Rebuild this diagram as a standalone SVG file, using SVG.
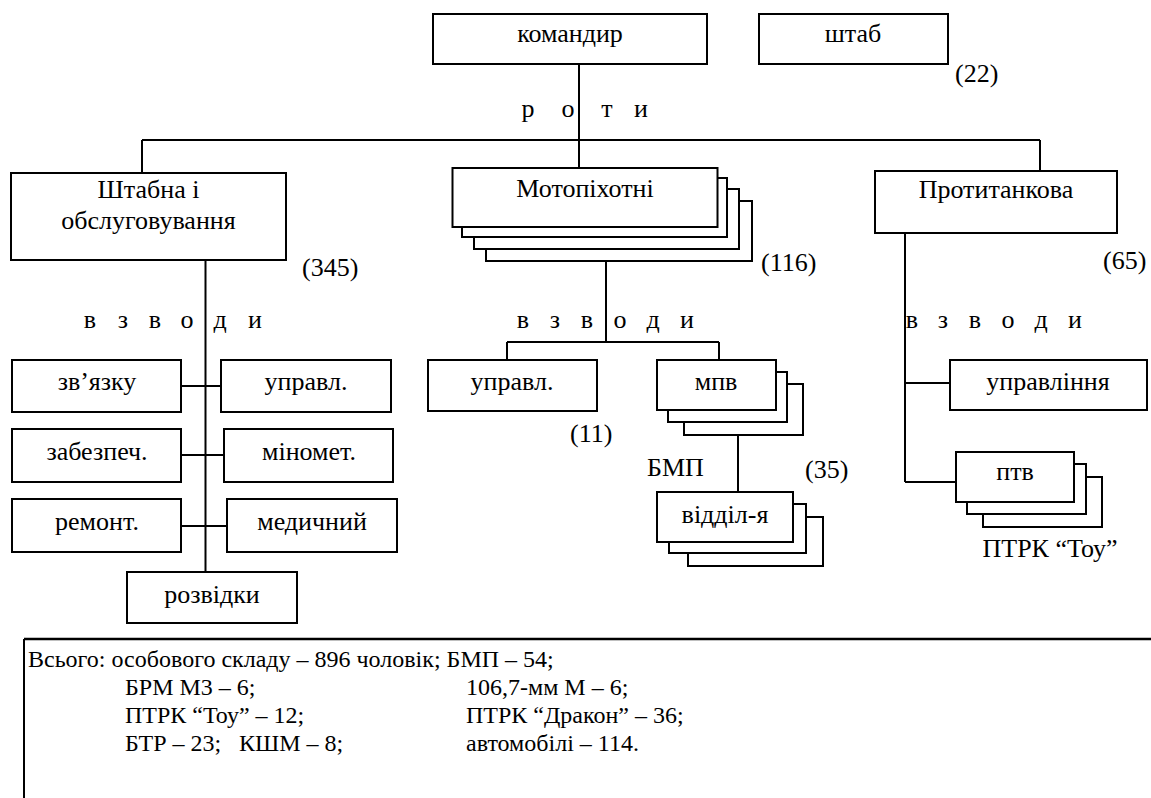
<svg xmlns="http://www.w3.org/2000/svg" width="1151" height="798" viewBox="0 0 1151 798" font-family="Times New Roman, Liberation Serif, Tinos, serif" font-size="26">
<rect width="1151" height="798" fill="#fff"/>
<g id="connectors" stroke="#000" stroke-width="2" fill="none">
<path d="M579,64V168M142,140H1040M142,140V173M1040,140V171"/>
<path d="M205.5,260V572M181,386H221M181,455H224M181,526H227"/>
<path d="M606,261V342M507,342H719M507,342V360M719,342V360M738,435V492"/>
<path d="M905,233V482M905,383H950M905,482H956"/>
</g>
<g id="komandyr"><rect fill="#fff" stroke="#000" stroke-width="2" x="433" y="14" width="274" height="50"/><text font-family="Times New Roman, Liberation Serif, serif" text-anchor="middle" x="570" y="42">командир</text></g>
<g id="shtab"><rect fill="#fff" stroke="#000" stroke-width="2" x="759" y="14" width="189" height="50"/><text font-family="Times New Roman, Liberation Serif, serif" text-anchor="middle" x="853" y="42">штаб</text><text font-family="Times New Roman, Liberation Serif, serif" x="955" y="82">(22)</text></g>
<g id="roty-label"><text font-family="Times New Roman, Liberation Serif, serif" text-anchor="middle" y="117"><tspan x="528">р</tspan><tspan x="568">о</tspan><tspan x="607">т</tspan><tspan x="641">и</tspan></text></g>
<g id="shtabna"><rect fill="#fff" stroke="#000" stroke-width="2" x="11" y="173" width="275" height="87"/><text font-family="Times New Roman, Liberation Serif, serif" text-anchor="middle" x="148.5" y="198">Штабна і</text><text font-family="Times New Roman, Liberation Serif, serif" text-anchor="middle" x="148.5" y="229">обслуговування</text><text font-family="Times New Roman, Liberation Serif, serif" x="302" y="276">(345)</text>
<text font-family="Times New Roman, Liberation Serif, serif" text-anchor="middle" y="328"><tspan x="90">в</tspan><tspan x="123">з</tspan><tspan x="155">в</tspan><tspan x="187">о</tspan><tspan x="220">д</tspan><tspan x="255">и</tspan></text></g>
<g id="zviazku"><rect fill="#fff" stroke="#000" stroke-width="2" x="12" y="360" width="169" height="52"/><text font-family="Times New Roman, Liberation Serif, serif" text-anchor="middle" x="97" y="390">зв’язку</text></g>
<g id="upravl-left"><rect fill="#fff" stroke="#000" stroke-width="2" x="221" y="360" width="170" height="52"/><text font-family="Times New Roman, Liberation Serif, serif" text-anchor="middle" x="306" y="390">управл.</text></g>
<g id="zabezpech"><rect fill="#fff" stroke="#000" stroke-width="2" x="12" y="429" width="169" height="53"/><text font-family="Times New Roman, Liberation Serif, serif" text-anchor="middle" x="97" y="460">забезпеч.</text></g>
<g id="minomet"><rect fill="#fff" stroke="#000" stroke-width="2" x="224" y="429" width="169" height="53"/><text font-family="Times New Roman, Liberation Serif, serif" text-anchor="middle" x="309" y="460">міномет.</text></g>
<g id="remont"><rect fill="#fff" stroke="#000" stroke-width="2" x="12" y="499" width="169" height="53"/><text font-family="Times New Roman, Liberation Serif, serif" text-anchor="middle" x="97" y="530">ремонт.</text></g>
<g id="medychnyi"><rect fill="#fff" stroke="#000" stroke-width="2" x="227" y="499" width="170" height="53"/><text font-family="Times New Roman, Liberation Serif, serif" text-anchor="middle" x="312" y="530">медичний</text></g>
<g id="rozvidky"><rect fill="#fff" stroke="#000" stroke-width="2" x="127" y="572" width="170" height="51"/><text font-family="Times New Roman, Liberation Serif, serif" text-anchor="middle" x="212" y="603">розвідки</text></g>
<g id="motopikhotni"><g fill="#fff" stroke="#000" stroke-width="2"><rect x="486" y="201" width="266" height="60"/><rect x="474" y="189" width="265" height="60"/><rect x="462" y="178" width="265" height="59"/><rect x="452.5" y="168" width="265" height="59"/></g><text font-family="Times New Roman, Liberation Serif, serif" text-anchor="middle" x="585" y="197">Мотопіхотні</text><text font-family="Times New Roman, Liberation Serif, serif" x="761" y="271">(116)</text>
<text font-family="Times New Roman, Liberation Serif, serif" text-anchor="middle" y="328"><tspan x="523">в</tspan><tspan x="555">з</tspan><tspan x="587">в</tspan><tspan x="620">о</tspan><tspan x="653">д</tspan><tspan x="687">и</tspan></text></g>
<g id="upravl-mid"><rect fill="#fff" stroke="#000" stroke-width="2" x="428" y="360" width="169" height="51"/><text font-family="Times New Roman, Liberation Serif, serif" text-anchor="middle" x="512" y="390">управл.</text><text font-family="Times New Roman, Liberation Serif, serif" x="570" y="442">(11)</text></g>
<g id="mpv"><g fill="#fff" stroke="#000" stroke-width="2"><rect x="684" y="384" width="119" height="51"/><rect x="668" y="372" width="119" height="50"/><rect x="657" y="360" width="119" height="50"/></g><text font-family="Times New Roman, Liberation Serif, serif" text-anchor="middle" x="716" y="390">мпв</text><text font-family="Times New Roman, Liberation Serif, serif" x="647" y="476">БМП</text><text font-family="Times New Roman, Liberation Serif, serif" x="805" y="478">(35)</text></g>
<g id="viddilia"><g fill="#fff" stroke="#000" stroke-width="2"><rect x="688" y="517" width="135" height="49"/><rect x="669" y="504" width="137" height="49"/><rect x="657" y="492" width="136" height="50"/></g><text font-family="Times New Roman, Liberation Serif, serif" text-anchor="middle" x="725" y="523">відділ-я</text></g>
<g id="protytankova"><rect fill="#fff" stroke="#000" stroke-width="2" x="875" y="171" width="242" height="62"/><text font-family="Times New Roman, Liberation Serif, serif" text-anchor="middle" x="996" y="198">Протитанкова</text><text font-family="Times New Roman, Liberation Serif, serif" x="1103" y="269">(65)</text>
<text font-family="Times New Roman, Liberation Serif, serif" text-anchor="middle" y="328"><tspan x="912">в</tspan><tspan x="943">з</tspan><tspan x="975">в</tspan><tspan x="1008">о</tspan><tspan x="1041">д</tspan><tspan x="1075">и</tspan></text></g>
<g id="upravlinnia"><rect fill="#fff" stroke="#000" stroke-width="2" x="950" y="360" width="197" height="50"/><text font-family="Times New Roman, Liberation Serif, serif" text-anchor="middle" x="1048" y="390">управління</text></g>
<g id="ptv"><g fill="#fff" stroke="#000" stroke-width="2"><rect x="983" y="477" width="119" height="50"/><rect x="967" y="464" width="119" height="50"/><rect x="956" y="452" width="118" height="50"/></g><text font-family="Times New Roman, Liberation Serif, serif" text-anchor="middle" x="1015" y="480">птв</text><text font-family="Times New Roman, Liberation Serif, serif" text-anchor="middle" x="1050" y="557">ПТРК “Тоу”</text></g>
<g id="summary"><path d="M24,639H1151" stroke="#000" stroke-width="2.5"/><path d="M24,639V798" stroke="#000" stroke-width="2"/>
<text font-family="Times New Roman, Liberation Serif, serif" font-size="24" x="28" y="667">Всього: особового складу – 896 чоловік; БМП – 54;</text>
<text font-family="Times New Roman, Liberation Serif, serif" font-size="24" x="125" y="695">БРМ М3 – 6;</text>
<text font-family="Times New Roman, Liberation Serif, serif" font-size="24" x="466" y="695">106,7-мм М – 6;</text>
<text font-family="Times New Roman, Liberation Serif, serif" font-size="24" x="125" y="723">ПТРК “Тоу” – 12;</text>
<text font-family="Times New Roman, Liberation Serif, serif" font-size="24" x="466" y="723">ПТРК “Дракон” – 36;</text>
<text font-family="Times New Roman, Liberation Serif, serif" font-size="24" x="125" y="751">БТР – 23;</text>
<text font-family="Times New Roman, Liberation Serif, serif" font-size="24" x="239" y="751">КШМ – 8;</text>
<text font-family="Times New Roman, Liberation Serif, serif" font-size="24" x="466" y="751">автомобілі – 114.</text>
</g>
</svg>
